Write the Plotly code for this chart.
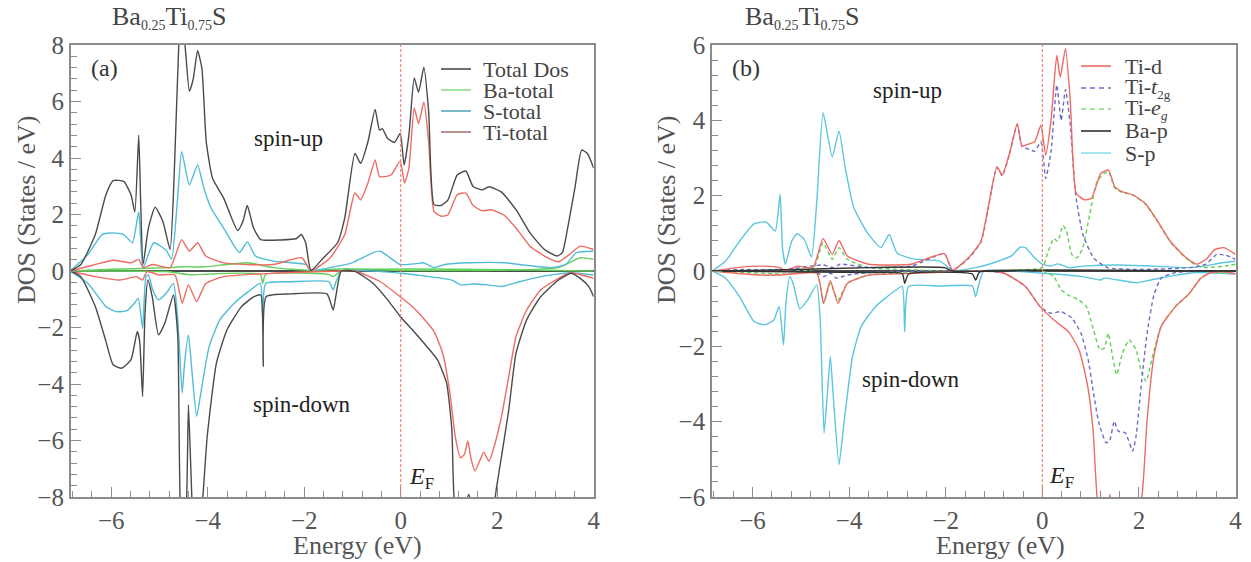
import plotly.graph_objects as go

W, H = 1251, 562

# ---------------- panel (a): total and element-resolved DOS ----------------
# [energy (eV), DOS (states/eV)]
TOTAL_UP = [(-6.85, 0), (-6.63, 0.23), (-6.33, 1.29), (-6.11, 2.70), (-5.96, 3.20), (-5.74, 3.17),
            (-5.59, 2.70), (-5.51, 2.09), (-5.43, 4.81), (-5.39, 2.46), (-5.34, 0.23), (-5.23, 1.52),
            (-5.09, 2.26), (-4.93, 1.76), (-4.78, 0.76), (-4.69, 3.64), (-4.60, 7.98), (-4.55, 9.0),
            (-4.47, 7.98), (-4.38, 6.36), (-4.30, 6.80), (-4.21, 7.80), (-4.12, 7.16), (-4.03, 4.57),
            (-3.90, 3.28), (-3.67, 2.58), (-3.38, 1.43), (-3.27, 1.76), (-3.18, 2.32), (-3.05, 1.52),
            (-2.90, 1.11), (-2.49, 1.10), (-2.16, 1.15), (-2.06, 1.29), (-1.97, 1.00), (-1.86, 0.02),
            (-1.60, 0.47), (-1.31, 1.00), (-1.16, 1.88), (-0.95, 4.16), (-0.83, 3.81), (-0.68, 4.57),
            (-0.53, 5.72), (-0.44, 4.99), (-0.38, 5.04), (-0.27, 4.69), (-0.13, 4.55), (-0.01, 4.87),
            (0.07, 3.75), (0.17, 4.81), (0.28, 6.83), (0.37, 6.33), (0.48, 7.21), (0.58, 5.63),
            (0.69, 2.35), (0.84, 2.32), (0.98, 2.52), (1.17, 3.40), (1.35, 3.54), (1.50, 2.99),
            (1.69, 2.87), (1.83, 2.98), (2.09, 2.79), (2.39, 2.17), (2.68, 1.35), (2.98, 0.76),
            (3.24, 0.53), (3.35, 0.65), (3.46, 1.52), (3.61, 2.93), (3.75, 4.28), (3.87, 4.16), (4.0, 3.64)]
TOTAL_DN = [(-6.85, 0), (-6.63, -0.2), (-6.33, -1.26), (-6.11, -2.49), (-5.96, -3.32), (-5.78, -3.44),
            (-5.59, -3.14), (-5.46, -2.14), (-5.41, -2.49), (-5.35, -4.44), (-5.30, -1.49), (-5.24, -0.32),
            (-5.15, -0.91), (-5.02, -2.26), (-4.89, -1.85), (-4.71, -0.85), (-4.62, -2.32), (-4.56, -8.6),
            (-4.50, -9.0), (-4.44, -8.2), (-4.40, -4.73), (-4.35, -7.0), (-4.31, -8.6), (-4.20, -9.5),
            (-4.11, -8.2), (-4.01, -5.85), (-3.82, -3.26), (-3.60, -2.08), (-3.30, -1.26), (-3.04, -0.91),
            (-2.90, -0.85), (-2.85, -3.38), (-2.79, -0.91), (-2.27, -0.81), (-1.53, -0.81), (-1.40, -1.38),
            (-1.34, -0.85), (-1.23, 0), (-0.94, -0.02), (-0.57, -0.44), (-0.27, -1.02), (-0.01, -1.61),
            (0.24, -2.08), (0.54, -2.67), (0.76, -3.14), (0.95, -3.96), (1.06, -5.61), (1.12, -8.3),
            (1.25, -8.8), (1.41, -7.9), (1.55, -8.8), (1.75, -8.9), (1.95, -8.1), (1.98, -7.73),
            (2.09, -6.55), (2.24, -4.91), (2.39, -2.91), (2.61, -1.73), (2.90, -0.91), (3.27, -0.32),
            (3.53, -0.08), (3.72, -0.26), (3.90, -0.55), (4.0, -0.91)]
BA_UP = [(-6.85, 0), (-5.96, 0.06), (-4.78, 0.12), (-4.54, 0.15), (-4.12, 0.14), (-3.18, 0.29),
         (-2.64, 0.12), (-1.86, 0.02), (-1.16, 0.08), (0.0, 0.02), (1.77, 0.02), (3.27, 0.12),
         (3.72, 0.47), (4.0, 0.41)]
BA_DN = [(-6.85, 0), (-4.86, -0.02), (-4.34, -0.14), (-4.12, -0.12), (-2.91, -0.12), (-2.86, -0.44),
         (-2.80, -0.12), (-1.49, -0.12), (-1.40, -0.2), (-1.23, 0), (4.0, 0)]
S_UP = [(-6.85, 0), (-6.48, 0.59), (-6.19, 1.29), (-5.96, 1.35), (-5.74, 1.29), (-5.56, 1.00),
        (-5.43, 2.09), (-5.34, 0.12), (-5.12, 1.00), (-4.86, 0.73), (-4.75, 0.41), (-4.63, 2.46),
        (-4.54, 4.22), (-4.38, 3.05), (-4.21, 3.75), (-4.08, 2.93), (-3.93, 2.23), (-3.67, 1.52),
        (-3.34, 0.65), (-3.18, 1.03), (-3.01, 0.53), (-2.64, 0.35), (-1.97, 0.23), (-1.86, 0.02),
        (-1.46, 0.12), (-1.01, 0.29), (-0.57, 0.65), (-0.42, 0.70), (-0.27, 0.53), (-0.01, 0.23),
        (0.32, 0.26), (0.47, 0.29), (0.69, 0.12), (0.91, 0.23), (1.43, 0.29), (2.17, 0.29),
        (2.54, 0.21), (3.13, 0.12), (3.42, 0.23), (3.64, 0.65), (4.0, 0.70)]
S_DN = [(-6.85, 0), (-6.48, -0.44), (-6.11, -1.26), (-5.89, -1.44), (-5.67, -1.40), (-5.52, -1.14),
        (-5.44, -0.96), (-5.35, -2.02), (-5.28, -0.2), (-5.23, -0.14), (-5.14, -0.67), (-5.02, -1.02),
        (-4.86, -0.79), (-4.71, -0.44), (-4.62, -1.73), (-4.53, -4.32), (-4.48, -3.26), (-4.40, -2.26),
        (-4.33, -3.49), (-4.23, -5.14), (-4.12, -4.08), (-3.97, -2.67), (-3.75, -1.73), (-3.45, -1.14),
        (-3.16, -0.73), (-2.91, -0.44), (-2.86, -1.67), (-2.80, -0.44), (-2.27, -0.38), (-1.49, -0.38),
        (-1.40, -0.67), (-1.34, -0.38), (-1.23, 0), (0.0, -0.08), (0.32, -0.14), (1.06, -0.32),
        (1.24, -0.49), (1.50, -0.46), (1.80, -0.49), (2.09, -0.55), (2.46, -0.38), (2.90, -0.2),
        (3.50, -0.06), (4.0, -0.14)]
TI_UP = [(-6.85, 0), (-6.33, 0.23), (-5.96, 0.38), (-5.59, 0.29), (-5.43, 0.41), (-5.34, 0.12),
         (-5.15, 0.23), (-4.78, 0.12), (-4.54, 1.11), (-4.38, 0.70), (-4.21, 1.00), (-4.04, 0.53),
         (-3.67, 0.29), (-3.18, 0.23), (-2.64, 0.23), (-2.05, 0.47), (-1.86, 0.02), (-1.46, 0.47),
         (-1.16, 1.29), (-0.95, 2.76), (-0.83, 2.52), (-0.68, 3.11), (-0.53, 3.93), (-0.44, 3.34),
         (-0.35, 3.34), (-0.20, 3.40), (-0.01, 3.89), (0.08, 3.11), (0.17, 3.64), (0.28, 5.77),
         (0.37, 5.22), (0.48, 5.98), (0.58, 4.57), (0.69, 2.11), (0.84, 1.94), (0.98, 1.99),
         (1.17, 2.70), (1.35, 2.76), (1.50, 2.32), (1.69, 2.13), (1.87, 2.17), (2.13, 1.99),
         (2.39, 1.52), (2.68, 0.88), (2.98, 0.53), (3.27, 0.33), (3.50, 0.59), (3.72, 0.88), (4.0, 0.76)]
TI_DN = [(-6.85, 0), (-6.33, -0.2), (-5.82, -0.32), (-5.48, -0.2), (-5.35, -0.32), (-5.26, -0.02),
         (-5.01, -0.14), (-4.68, -0.14), (-4.53, -1.14), (-4.40, -0.49), (-4.23, -1.08), (-4.04, -0.44),
         (-3.67, -0.2), (-2.64, -0.08), (-1.23, 0), (-0.94, 0), (-0.42, -0.38), (-0.01, -0.91),
         (0.24, -1.26), (0.47, -1.67), (0.69, -2.14), (0.87, -2.91), (1.02, -4.32), (1.13, -5.85),
         (1.24, -6.61), (1.32, -6.49), (1.39, -6.02), (1.46, -6.67), (1.54, -7.08), (1.65, -6.67),
         (1.72, -6.41), (1.83, -6.73), (1.94, -6.20), (2.09, -5.14), (2.24, -3.73), (2.39, -2.32),
         (2.61, -1.38), (2.90, -0.67), (3.27, -0.26), (3.53, -0.06), (3.75, -0.14), (4.0, -0.26)]

# ---------------- panel (b): orbital-projected DOS ----------------
TID_UP = [(-6.84, 0), (-6.19, 0.11), (-5.82, 0.13), (-5.43, 0.09), (-5.32, 0), (-5.08, 0.13),
          (-4.75, 0.09), (-4.54, 0.86), (-4.35, 0.44), (-4.21, 0.81), (-4.04, 0.40), (-3.60, 0.18),
          (-3.19, 0.16), (-2.71, 0.18), (-2.03, 0.46), (-1.86, 0.02), (-1.53, 0.35), (-1.27, 0.79),
          (-0.94, 2.77), (-0.83, 2.55), (-0.68, 3.12), (-0.52, 3.91), (-0.42, 3.32), (-0.31, 3.36),
          (-0.16, 3.43), (-0.03, 3.87), (0.07, 3.08), (0.18, 4.00), (0.30, 5.73), (0.37, 5.14),
          (0.48, 5.91), (0.58, 4.49), (0.70, 2.07), (0.87, 1.89), (1.02, 1.93), (1.21, 2.59),
          (1.37, 2.68), (1.50, 2.24), (1.65, 2.11), (1.87, 2.02), (2.13, 1.80), (2.39, 1.32),
          (2.65, 0.79), (2.98, 0.35), (3.20, 0.18), (3.39, 0.31), (3.57, 0.57), (3.76, 0.62), (4.0, 0.44)]
TID_DN = [(-6.84, 0), (-5.82, -0.11), (-5.36, -0.1), (-4.67, -0.06), (-4.53, -0.86), (-4.39, -0.26),
          (-4.23, -0.86), (-4.04, -0.33), (-3.60, -0.11), (-2.86, -0.07), (-1.21, 0), (-0.79, -0.06),
          (-0.35, -0.41), (-0.05, -0.94), (0.24, -1.30), (0.54, -1.61), (0.76, -2.09), (0.94, -3.06),
          (1.05, -4.21), (1.14, -6.1), (1.24, -6.7), (1.32, -6.5), (1.40, -5.93), (1.47, -6.7),
          (1.55, -7.1), (1.66, -6.7), (1.74, -6.45), (1.84, -6.75), (1.95, -6.4), (2.06, -6.0),
          (2.17, -3.95), (2.31, -2.27), (2.46, -1.47), (2.76, -0.94), (3.05, -0.59), (3.28, -0.19),
          (3.50, -0.04), (3.79, -0.02), (4.0, -0.08)]
T2G_UP = [(-6.84, 0), (-6.19, 0.04), (-5.43, 0.02), (-4.54, 0.16), (-4.33, 0.09), (-4.19, 0.18),
          (-3.60, 0.09), (-2.71, 0.13), (-2.03, 0.46), (-1.86, 0.02), (-1.53, 0.33), (-1.27, 0.77),
          (-0.94, 2.75), (-0.83, 2.53), (-0.68, 3.10), (-0.52, 3.89), (-0.42, 3.30), (-0.31, 3.25),
          (-0.16, 3.18), (-0.03, 3.43), (0.07, 2.46), (0.18, 3.17), (0.30, 4.94), (0.39, 4.00),
          (0.48, 4.82), (0.58, 3.87), (0.69, 2.02), (0.84, 0.97), (1.06, 0.35), (1.35, 0.09),
          (1.94, 0.04), (3.05, 0.09), (3.39, 0.18), (3.61, 0.44), (3.79, 0.42), (4.0, 0.31)]
T2G_DN = [(-6.84, 0), (-4.67, -0.04), (-4.53, -0.15), (-4.38, -0.06), (-4.27, -0.19), (-4.04, -0.11),
          (-3.60, -0.04), (-1.21, 0), (-0.79, -0.06), (-0.35, -0.41), (-0.05, -0.94), (0.17, -1.12),
          (0.39, -1.08), (0.61, -1.25), (0.80, -1.65), (0.95, -2.36), (1.06, -3.24), (1.17, -4.03),
          (1.32, -4.56), (1.39, -4.52), (1.49, -3.99), (1.57, -4.25), (1.72, -4.30), (1.87, -4.78),
          (1.94, -4.39), (2.06, -2.89), (2.17, -1.65), (2.31, -0.64), (2.46, -0.19), (2.76, -0.04),
          (3.42, 0), (4.0, -0.02)]
EG_UP = [(-6.84, 0), (-5.43, 0.04), (-4.75, 0.04), (-4.54, 0.75), (-4.35, 0.31), (-4.21, 0.62),
         (-4.04, 0.31), (-3.60, 0.09), (-2.86, 0.04), (-1.86, 0), (-0.64, 0.02), (0.0, 0.09),
         (0.10, 0.44), (0.24, 0.86), (0.32, 0.79), (0.43, 1.21), (0.50, 1.06), (0.61, 0.44),
         (0.72, 0.35), (0.84, 0.62), (0.98, 1.50), (1.13, 2.37), (1.28, 2.59), (1.37, 2.64),
         (1.50, 2.20), (1.65, 2.09), (1.87, 2.02), (2.13, 1.78), (2.39, 1.30), (2.65, 0.77),
         (2.98, 0.33), (3.20, 0.14), (3.35, 0.09), (3.79, 0.13), (4.0, 0.18)]
EG_DN = [(-6.84, 0), (-5.36, -0.08), (-4.67, -0.06), (-4.53, -0.86), (-4.39, -0.33), (-4.23, -0.77),
         (-4.04, -0.33), (-3.60, -0.11), (-1.21, 0), (0.0, 0), (0.24, -0.15), (0.39, -0.50),
         (0.54, -0.64), (0.76, -0.77), (0.91, -0.94), (1.06, -1.56), (1.19, -2.09), (1.28, -2.05),
         (1.37, -1.65), (1.43, -2.09), (1.54, -2.75), (1.66, -2.18), (1.80, -1.83), (1.94, -2.09),
         (2.06, -2.71), (2.15, -2.93), (2.28, -2.27), (2.46, -1.47), (2.76, -0.94), (3.05, -0.59),
         (3.28, -0.19), (3.50, -0.04), (4.0, -0.06)]
BAP_UP = [(-6.84, 0), (-5.08, 0.04), (-3.60, 0.09), (-2.03, 0.09), (-1.86, 0), (0.10, 0.02), (4.0, 0)]
BAP_DN = [(-6.84, 0), (-3.60, -0.04), (-2.90, -0.07), (-2.85, -0.33), (-2.77, -0.08), (-1.45, -0.08),
          (-1.38, -0.24), (-1.31, -0.04), (-1.21, 0), (4.0, 0)]
SP_UP = [(-6.84, 0), (-6.56, 0.26), (-6.27, 0.79), (-5.97, 1.25), (-5.72, 1.30), (-5.53, 1.06),
         (-5.43, 2.04), (-5.38, 0.62), (-5.32, 0.18), (-5.19, 0.79), (-5.08, 0.99), (-4.93, 0.84),
         (-4.78, 0.37), (-4.67, 1.85), (-4.54, 4.20), (-4.35, 3.03), (-4.21, 3.72), (-4.08, 2.73),
         (-3.90, 1.67), (-3.60, 0.97), (-3.34, 0.62), (-3.17, 0.97), (-3.01, 0.48), (-2.71, 0.33),
         (-2.12, 0.26), (-1.86, 0.02), (-1.38, 0.09), (-1.01, 0.22), (-0.64, 0.40), (-0.46, 0.63),
         (-0.35, 0.62), (-0.16, 0.35), (0.0, 0.18), (0.17, 0.13), (0.32, 0.19), (0.54, 0.09),
         (0.84, 0.13), (1.57, 0.16), (2.31, 0.13), (3.05, 0.09), (3.35, 0.13), (3.72, 0.22), (4.0, 0.26)]
SP_DN = [(-6.84, 0), (-6.56, -0.19), (-6.27, -0.68), (-5.97, -1.34), (-5.75, -1.43), (-5.56, -1.30),
         (-5.45, -0.94), (-5.36, -1.96), (-5.31, -0.86), (-5.23, -0.15), (-5.16, -0.33), (-5.02, -1.01),
         (-4.86, -0.77), (-4.67, -0.37), (-4.60, -1.30), (-4.52, -4.30), (-4.45, -3.24), (-4.39, -2.27),
         (-4.32, -3.50), (-4.21, -5.14), (-4.10, -3.95), (-3.93, -2.27), (-3.75, -1.47), (-3.45, -0.94),
         (-3.08, -0.55), (-2.90, -0.41), (-2.85, -1.61), (-2.77, -0.41), (-2.12, -0.40), (-1.45, -0.40),
         (-1.38, -0.68), (-1.31, -0.33), (-1.21, 0), (0.0, -0.06), (0.84, -0.15), (1.21, -0.24),
         (1.28, -0.19), (1.57, -0.24), (1.94, -0.31), (2.24, -0.24), (2.68, -0.13), (3.20, -0.04),
         (4.0, -0.08)]

TITLE = ("Ba<sub><span style='font-size:14px'>0.25</span></sub>"
         "Ti<sub><span style='font-size:14px'>0.75</span></sub>S")
Y_TICKS_A = [-8, -6, -4, -2, 0, 2, 4, 6, 8]
Y_TICKS_B = [-6, -4, -2, 0, 2, 4, 6]
X_TICKS = [-6, -4, -2, 0, 2, 4]

RED = "#ee6a62"
GREEN = "#62d05a"
CYAN = "#4fbcd8"
DARK = "#4a4a4a"
BLUE = "#6c6cc8"

# (data, colour, dash)
SERIES_A = [
    (BA_UP, GREEN, "solid"), (BA_DN, GREEN, "solid"),
    (S_UP, CYAN, "solid"), (S_DN, CYAN, "solid"),
    (TI_UP, RED, "solid"), (TI_DN, RED, "solid"),
    (TOTAL_UP, DARK, "solid"), (TOTAL_DN, DARK, "solid"),
]
SERIES_B = [
    (SP_UP, "#5cc6e0", "solid"), (SP_DN, "#5cc6e0", "solid"),
    (EG_UP, GREEN, "dash"), (EG_DN, GREEN, "dash"),
    (T2G_UP, BLUE, "dash"), (T2G_DN, BLUE, "dash"),
    (TID_UP, RED, "solid"), (TID_DN, RED, "solid"),
    (BAP_UP, "#333333", "solid"), (BAP_DN, "#333333", "solid"),
]
SUB = "<sub><span style='font-size:13px'>{}</span></sub>"
LEGEND_A = [("Total Dos", DARK, "solid"), ("Ba-total", "#8ee08a", "solid"),
            ("S-total", "#5aa8b8", "solid"), ("Ti-total", "#a07a7a", "solid")]
LEGEND_B = [("Ti-d", RED, "solid"), ("Ti-<i>t</i>" + SUB.format("2g"), BLUE, "dash"),
            ("Ti-<i>e</i>" + SUB.format("<i>g</i>"), "#7ee07a", "dash"), ("Ba-p", "#333333", "solid"),
            ("S-p", "#8fe0ee", "solid")]

fig = go.Figure()

for series, xa, ya in ((SERIES_A, "x", "y"), (SERIES_B, "x2", "y2")):
    for data, color, dash in series:
        e = [p[0] for p in data]
        d = [p[1] for p in data]
        fig.add_trace(go.Scatter(
            x=e, y=d, mode="lines", xaxis=xa, yaxis=ya, showlegend=False, hoverinfo="skip",
            line=dict(color=color, width=1.4, dash="4px,3px" if dash == "dash" else "solid",
                      shape="spline", smoothing=0.5)))

# page margins (px); paper coordinates are measured inside them
ML, MR, MT, MB = 5, 5, 35, 35
PW, PH = W - ML - MR, H - MT - MB


def px(x):
    return (x - ML) / PW


def py(y):
    return 1 - (y - MT) / PH


FRAME = "#8c8c8c"
SERIF = "Liberation Serif, Times New Roman, serif"
TICKFONT = dict(family=SERIF, size=25, color="#555555")

xdom_a = [px(70.7), px(593.7)]
xdom_b = [px(712), px(1235.5)]
ydom = [py(497), py(45)]

minor = dict(ticks="inside", ticklen=6, dtick=0.4, tick0=0, tickcolor=FRAME, showgrid=False)
common_x = dict(range=[-6.84, 4.0], tickvals=X_TICKS, ticks="inside", ticklen=10, tickwidth=1.2,
                tickcolor=FRAME, showline=True, linecolor=FRAME, linewidth=1.6, mirror=True,
                showgrid=False, zeroline=False, tickfont=TICKFONT, minor=minor)
common_y = dict(ticks="inside", ticklen=10, tickwidth=1.2, tickcolor=FRAME, showline=True,
                linecolor=FRAME, linewidth=1.6, mirror=True, showgrid=False, zeroline=True,
                zerolinecolor="#4a4a4a", zerolinewidth=1.6, tickfont=TICKFONT, minor=minor)

fig.update_layout(
    width=W, height=H, margin=dict(l=ML, r=MR, t=MT, b=MB, autoexpand=False),
    paper_bgcolor="white", plot_bgcolor="white", showlegend=False,
    xaxis=dict(domain=xdom_a, anchor="y", **common_x),
    yaxis=dict(domain=ydom, anchor="x", range=[-8, 8], tickvals=Y_TICKS_A, **common_y),
    xaxis2=dict(domain=xdom_b, anchor="y2", **common_x),
    yaxis2=dict(domain=ydom, anchor="x2", range=[-6, 6], tickvals=Y_TICKS_B, **common_y),
)

shapes = []
annotations = []

# Fermi level markers
for xa, ya in (("x", "y"), ("x2", "y2")):
    shapes.append(dict(type="line", xref=xa, yref=ya + " domain", x0=0, x1=0, y0=0, y1=1,
                       line=dict(color="#f07a74", width=1.1, dash="3px,2px"), layer="above"))


def text(x, y, s, size, xanchor="center", color="#333333", angle=0):
    annotations.append(dict(x=px(x), y=py(y), xref="paper", yref="paper", text=s, showarrow=False,
                            xanchor=xanchor, yanchor="middle", textangle=angle,
                            font=dict(family=SERIF, size=size, color=color)))


# panel labels and titles
text(110, 18, TITLE, 26, xanchor="left", color="#444444")
text(743, 18, TITLE, 26, xanchor="left", color="#444444")
text(104, 68, "(a)", 24)
text(746, 68, "(b)", 24)
text(288, 138, "spin-up", 23, color="#222222")
text(302, 404, "spin-down", 23, color="#222222")
text(907, 91, "spin-up", 23, color="#222222")
text(911, 379, "spin-down", 23, color="#222222")
text(407, 478, "<i>E</i><sub>F</sub>", 24, xanchor="left", color="#222222")
text(1047, 477, "<i>E</i><sub>F</sub>", 24, xanchor="left", color="#222222")
text(357, 545, "Energy (eV)", 26, color="#555555")
text(1000, 545, "Energy (eV)", 26, color="#555555")
text(26, 210, "DOS (States / eV)", 26, color="#555555", angle=-90)
text(666, 210, "DOS (States / eV)", 26, color="#555555", angle=-90)

# legends
for entries, x0, x1, xt, rows in ((LEGEND_A, 441, 471, 481, [69, 90, 111, 132]),
                                  (LEGEND_B, 1081, 1111, 1123, [66, 88, 109, 131, 153])):
    for (label, color, dash), yrow in zip(entries, rows):
        shapes.append(dict(type="line", xref="paper", yref="paper", x0=px(x0), x1=px(x1),
                           y0=py(yrow), y1=py(yrow),
                           line=dict(color=color, width=1.6,
                                     dash="5px,4px" if dash == "dash" else "solid")))
        text(xt, yrow, label, 22, xanchor="left", color="#444444")

fig.update_layout(shapes=shapes, annotations=annotations)
fig.write_html("out.html")
